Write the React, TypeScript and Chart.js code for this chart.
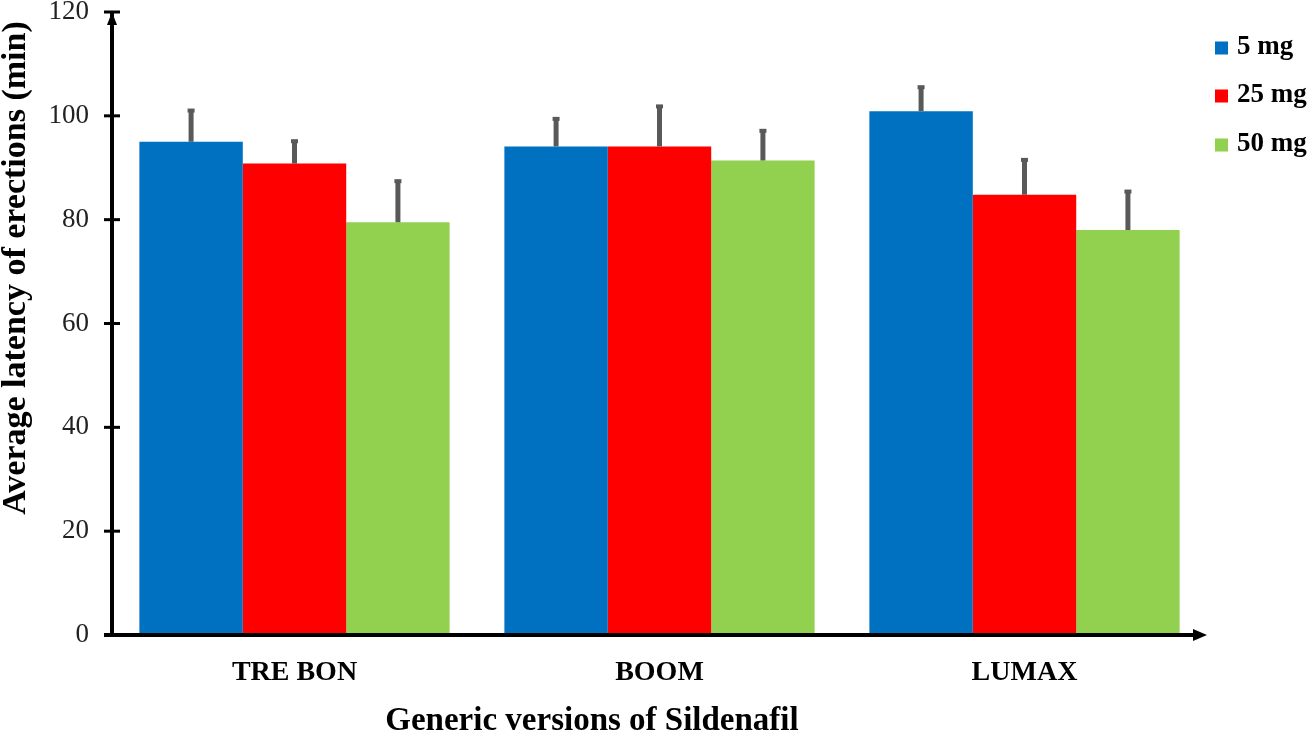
import { useEffect, useRef } from 'react';
import { Chart, registerables } from 'chart.js';
import type { Chart as ChartType, Plugin } from 'chart.js';

Chart.register(...registerables);

const categories = ['TRE BON', 'BOOM', 'LUMAX'];
const seriesLabels = ['5 mg', '25 mg', '50 mg'];
const mg5 = [95.0, 94.1, 100.9];
const mg25 = [90.8, 94.1, 84.8];
const mg50 = [79.5, 91.4, 78.0];
const err5 = [6.4, 5.7, 5.0];
const err25 = [4.7, 8.1, 7.1];
const err50 = [8.3, 6.1, 7.8];
const yTicks = [0, 20, 40, 60, 80, 100, 120];
const colors = ['#0070C0', '#FF0000', '#92D050'];

const SERIF = '"Liberation Serif", "Times New Roman", serif';
const errors = [err5, err25, err50];

// error bars, axes with arrows, legend and axis titles
const decorPlugin: Plugin<'bar'> = {
  id: 'decor',
  afterDatasetsDraw(chart) {
    const { ctx, chartArea, scales } = chart;
    const y = scales.y;
    ctx.save();

    // error bars (upper only)
    ctx.strokeStyle = '#595959';
    ctx.fillStyle = '#595959';
    ctx.lineWidth = 5;
    chart.data.datasets.forEach((ds, i) => {
      const meta = chart.getDatasetMeta(i);
      meta.data.forEach((el: any, j) => {
        const v = ds.data[j] as number;
        const top = y.getPixelForValue(v + errors[i][j]);
        ctx.beginPath();
        ctx.moveTo(el.x, el.y);
        ctx.lineTo(el.x, top + 2);
        ctx.stroke();
        ctx.fillRect(el.x - 3.5, top, 7, 4);
      });
    });

    // axes
    const x0 = chartArea.left;
    const yb = chartArea.bottom;
    ctx.strokeStyle = '#000';
    ctx.fillStyle = '#000';
    ctx.lineWidth = 4;
    ctx.beginPath();
    ctx.moveTo(x0, yb + 2);
    ctx.lineTo(x0, chartArea.top);
    ctx.stroke();
    ctx.beginPath();
    ctx.moveTo(x0 - 8, yb);
    ctx.lineTo(chartArea.right - 8, yb);
    ctx.stroke();

    ctx.lineWidth = 3;
    yTicks.forEach((t) => {
      const py = y.getPixelForValue(t);
      ctx.beginPath();
      ctx.moveTo(x0 - 8, py);
      ctx.lineTo(x0 + 8, py);
      ctx.stroke();
    });

    // arrow heads
    ctx.beginPath();
    ctx.moveTo(x0, chartArea.top);
    ctx.lineTo(x0 - 5, chartArea.top + 13);
    ctx.lineTo(x0 + 5, chartArea.top + 13);
    ctx.closePath();
    ctx.fill();
    ctx.beginPath();
    ctx.moveTo(chartArea.right, yb);
    ctx.lineTo(chartArea.right - 14, yb - 6);
    ctx.lineTo(chartArea.right - 14, yb + 6);
    ctx.closePath();
    ctx.fill();

    // legend
    const legendY = [48, 96, 145];
    seriesLabels.forEach((lab, i) => {
      ctx.fillStyle = colors[i];
      ctx.fillRect(1215, legendY[i] - 6.5, 13, 13);
      ctx.fillStyle = '#000';
      ctx.font = `bold 27px ${SERIF}`;
      ctx.textAlign = 'left';
      ctx.textBaseline = 'middle';
      ctx.fillText(lab, 1237, legendY[i] - 1);
    });

    // axis titles
    ctx.fillStyle = '#000';
    ctx.font = `bold 33px ${SERIF}`;
    ctx.textAlign = 'center';
    ctx.textBaseline = 'middle';
    ctx.fillText('Generic versions of Sildenafil', 592, 721);

    ctx.translate(16, 268);
    ctx.rotate(-Math.PI / 2);
    ctx.font = `bold 34px ${SERIF}`;
    ctx.fillText('Average latency of erections (min)', 0, 0);

    ctx.restore();
  },
};

export default function App() {
  const chartRef = useRef<HTMLCanvasElement>(null);
  const chartInstanceRef = useRef<ChartType | null>(null);

  useEffect(() => {
    document.body.style.margin = '0';
    if (chartRef.current) {
      if (chartInstanceRef.current) {
        chartInstanceRef.current.destroy();
      }
      const ctx = chartRef.current.getContext('2d');
      if (ctx) {
        chartInstanceRef.current = new Chart(ctx, {
          type: 'bar',
          data: {
            labels: categories,
            datasets: [
              { label: seriesLabels[0], data: mg5, backgroundColor: colors[0] },
              { label: seriesLabels[1], data: mg25, backgroundColor: colors[1] },
              { label: seriesLabels[2], data: mg50, backgroundColor: colors[2] },
            ],
          },
          options: {
            responsive: true,
            maintainAspectRatio: false,
            animation: false,
            layout: { padding: { top: 12, right: 106, left: 0, bottom: 0 } },
            datasets: {
              bar: { categoryPercentage: 0.85, barPercentage: 1.0 },
            },
            scales: {
              x: {
                grid: { display: false, drawTicks: false },
                border: { display: false },
                ticks: {
                  color: '#000',
                  padding: 21,
                  font: { family: SERIF, size: 28, weight: 'bold' },
                },
                afterFit: (s: any) => {
                  s.height = 104;
                  s.paddingLeft = 0;
                  s.paddingRight = 0;
                },
              },
              y: {
                min: 0,
                max: 120,
                grid: { display: false, drawTicks: false },
                border: { display: false },
                ticks: {
                  stepSize: 20,
                  padding: 23,
                  color: '#222',
                  font: { family: SERIF, size: 27 },
                },
                afterFit: (s: any) => {
                  s.width = 112;
                  s.paddingTop = 0;
                  s.paddingBottom = 0;
                },
              },
            },
            plugins: {
              legend: { display: false },
              tooltip: { enabled: false },
            },
          },
          plugins: [decorPlugin],
        });
      }
    }

    return () => {
      if (chartInstanceRef.current) {
        chartInstanceRef.current.destroy();
        chartInstanceRef.current = null;
      }
    };
  }, []);

  return (
    <div style={{ width: 1313, height: 739, position: 'relative' }}>
      <canvas ref={chartRef} />
    </div>
  );
}
